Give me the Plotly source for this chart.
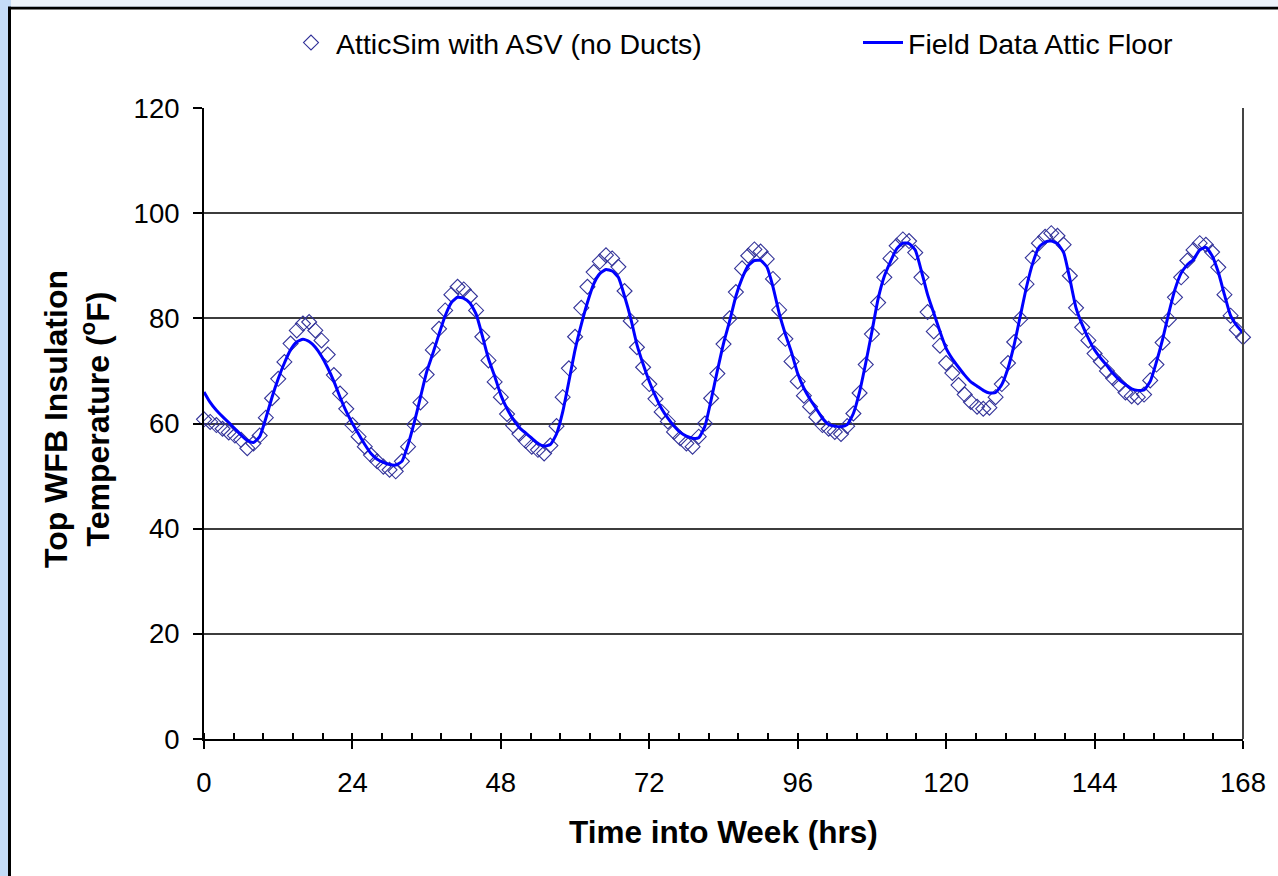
import plotly.graph_objects as go

# ---------------- data ----------------
hours = list(range(169))

sim_asv = [
    60.8, 60.3, 59.7, 59.0, 58.3, 57.7, 56.9, 55.3, 56.2, 57.7, 61.1, 64.8, 68.5, 71.7, 75.2, 77.7, 79.0,
    79.3, 77.7, 75.8, 73.1, 69.2, 65.7, 62.8, 59.7, 57.5, 55.6, 54.0, 52.8, 51.8, 51.2, 50.9, 52.8, 55.6,
    59.8, 64.0, 69.3, 74.0, 78.0, 81.5, 84.5, 86.0, 85.5, 84.2, 81.5, 76.5, 72.0, 67.9, 65.0, 61.8, 59.6,
    58.0, 56.7, 55.6, 55.0, 54.3, 55.8, 59.5, 65.0, 70.5, 76.5, 82.0, 86.0, 88.8, 90.8, 92.0, 91.4, 89.8,
    85.2, 79.5, 74.5, 70.7, 67.5, 64.7, 62.2, 60.4, 58.4, 57.2, 56.2, 55.6, 57.5, 60.0, 64.8, 69.5, 75.1,
    80.0, 85.0, 89.5, 91.9, 93.1, 92.7, 91.3, 87.5, 81.6, 76.1, 71.8, 68.0, 65.3, 63.2, 61.2, 59.7, 59.0,
    58.4, 58.0, 59.5, 61.9, 65.8, 71.2, 77.0, 83.0, 87.8, 91.4, 93.8, 95.0, 94.7, 92.5, 87.8, 81.2, 77.5,
    74.8, 71.5, 69.6, 67.3, 65.5, 64.1, 63.2, 62.8, 63.0, 65.0, 67.5, 71.5, 75.5, 79.9, 86.5, 91.5, 94.3,
    95.5, 96.2, 95.7, 94.0, 88.1, 82.0, 78.3, 75.8, 73.3, 71.8, 70.0, 68.6, 67.4, 65.9, 65.2, 65.0, 65.5,
    68.2, 71.2, 75.4, 79.8, 84.0, 87.8, 91.0, 93.0, 94.3, 94.0, 92.6, 89.7, 84.5, 80.5, 77.8, 76.4,
]

field_attic_floor = [
    66.0, 64.0, 62.5, 61.3, 60.2, 59.0, 57.8, 56.8, 56.4, 57.5, 61.0, 65.0, 68.5, 71.5, 74.0, 75.5, 76.0,
    75.6, 74.5, 72.8, 70.6, 68.0, 65.0, 62.3, 60.0, 58.0, 56.0, 54.3, 53.2, 52.6, 52.2, 52.1, 52.8, 56.0,
    60.2, 65.0, 69.8, 73.3, 77.0, 80.5, 83.0, 84.0, 83.8, 82.9, 80.8, 76.7, 72.3, 69.0, 65.4, 62.8, 60.8,
    59.2, 58.2, 57.2, 56.2, 55.7, 56.0, 58.0, 62.2, 68.0, 74.0, 78.8, 83.0, 86.5, 88.5, 89.3, 89.0, 87.8,
    84.2, 80.0, 75.0, 71.3, 68.0, 65.2, 62.8, 61.0, 59.5, 58.3, 57.6, 57.2, 57.3, 59.5, 64.5, 70.0, 75.2,
    79.5, 84.2, 87.6, 90.0, 91.0, 91.0, 89.8, 86.0, 81.0, 77.0, 73.5, 69.5, 66.7, 64.6, 62.8, 61.0, 59.8,
    59.5, 59.4, 59.8, 61.9, 66.0, 71.5, 77.5, 83.7, 88.0, 90.8, 93.2, 94.3, 94.2, 93.0, 89.0, 84.5, 81.0,
    77.5, 74.3, 72.3, 70.7, 69.2, 67.9, 67.1, 66.3, 65.8, 65.9, 67.4, 70.5, 75.0, 80.5, 86.0, 90.5, 93.5,
    94.5, 94.7, 94.2, 92.5, 87.5, 82.0, 78.8, 76.2, 74.0, 72.4, 71.0, 69.5, 68.3, 67.4, 66.6, 66.3, 66.4,
    68.0, 71.7, 76.0, 81.0, 85.5, 88.6, 90.2, 91.2, 93.0, 93.5, 91.9, 88.8, 84.5, 80.5, 78.6, 77.2,
]

sim_name = "AtticSim with ASV (no Ducts)"
field_name = "Field Data Attic Floor"
x_title = "Time into Week (hrs)"
y_title = "Top WFB Insulation<br>Temperature (<sup>o</sup>F)"

# ---------------- layout geometry ----------------
W, H = 1278, 876
L, R, T, B = 204, 35, 108, 137
PW, PH = W - L - R, H - T - B


def px2x(px):
    return (px - L) / PW


def py2y(py):
    return (H - B - py) / PH


FONT = "Liberation Sans, Arial, sans-serif"

fig = go.Figure()

fig.add_trace(go.Scatter(
    x=hours, y=sim_asv, name=sim_name, mode="markers",
    marker=dict(symbol="diamond-open", size=11.5, color="#333399", line=dict(width=1.1, color="#333399")),
    cliponaxis=False, legend="legend",
))
fig.add_trace(go.Scatter(
    x=hours, y=field_attic_floor, name=field_name, mode="lines",
    line=dict(color="#0000ff", width=3, shape="spline", smoothing=0.5),
    legend="legend2",
))

fig.update_layout(
    width=W, height=H,
    margin=dict(l=L, r=R, t=T, b=B, pad=0),
    paper_bgcolor="#c4dbf7",
    plot_bgcolor="white",
    font=dict(family=FONT, size=27.5, color="black"),
    showlegend=True,
    legend=dict(
        orientation="h", x=px2x(286), xanchor="left", y=py2y(43), yanchor="middle",
        itemwidth=40,
        bgcolor="rgba(0,0,0,0)", font=dict(family=FONT, size=28.5, color="black"),
    ),
    legend2=dict(
        orientation="h", x=px2x(858), xanchor="left", y=py2y(43), yanchor="middle",
        itemwidth=40,
        bgcolor="rgba(0,0,0,0)", font=dict(family=FONT, size=28.5, color="black"),
    ),
    xaxis=dict(
        range=[0, 168], dtick=24, tick0=0,
        showgrid=False, zeroline=False,
        showline=True, linecolor="black", linewidth=2,
        ticks="outside", ticklen=8, tickwidth=2, tickcolor="black",
        ticklabelstandoff=10,
        minor=dict(dtick=4.8, tick0=0, ticks="inside", ticklen=6, tickwidth=1.5, tickcolor="black"),
        tickfont=dict(family=FONT, size=27.5, color="black"),
    ),
    yaxis=dict(
        range=[0, 120], dtick=20, tick0=0,
        showgrid=True, gridcolor="#3c3c3c", gridwidth=2,
        zeroline=False,
        showline=True, linecolor="black", linewidth=2,
        ticks="outside", ticklen=9, tickwidth=2, tickcolor="black",
        ticklabelstandoff=8,
        tickfont=dict(family=FONT, size=27.5, color="black"),
    ),
    shapes=[
        # white chart card with black frame
        dict(type="rect", xref="paper", yref="paper", layer="below",
             x0=px2x(9.5), x1=px2x(1320), y0=py2y(920), y1=py2y(8),
             fillcolor="white", line=dict(color="black", width=3)),
        # light strip above card
        dict(type="rect", xref="paper", yref="paper", layer="below",
             x0=px2x(11), x1=px2x(1320), y0=py2y(6.5), y1=py2y(-5),
             fillcolor="#edf3fb", line=dict(width=0)),
        # right border of plot area
        dict(type="line", xref="paper", yref="paper", layer="above",
             x0=1, x1=1, y0=0, y1=1, line=dict(color="#444444", width=2)),
    ],
    annotations=[
        dict(text="<b>" + x_title + "</b>", xref="paper", yref="paper",
             x=px2x(723), y=py2y(832), xanchor="center", yanchor="middle",
             showarrow=False, font=dict(family=FONT, size=31.5, color="black")),
        dict(text="<b>" + y_title + "</b>", xref="paper", yref="paper",
             x=px2x(77), y=py2y(419), xanchor="center", yanchor="middle",
             textangle=-90, showarrow=False,
             font=dict(family=FONT, size=32, color="black")),
    ],
)

fig.write_html("out.html")
